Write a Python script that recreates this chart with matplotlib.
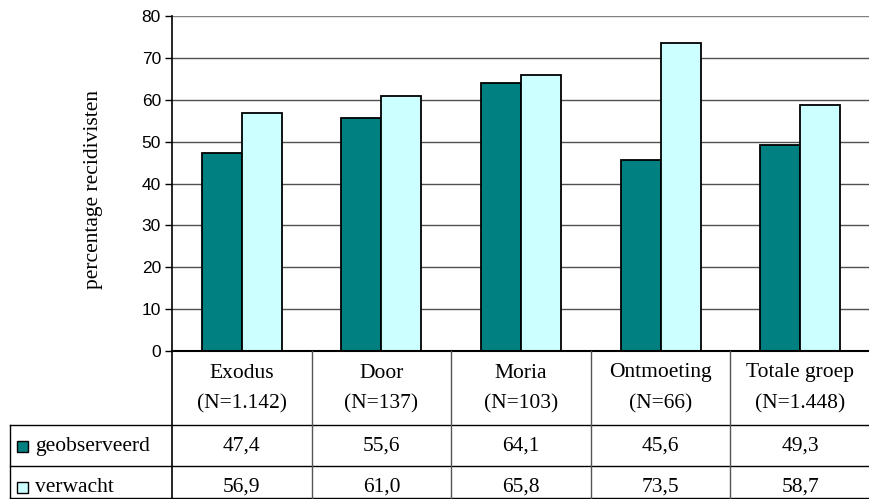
import matplotlib
matplotlib.use("Agg")
import matplotlib.pyplot as plt
from matplotlib.transforms import blended_transform_factory
from matplotlib.patches import Rectangle
from matplotlib.lines import Line2D

categories = ["Exodus", "Door", "Moria", "Ontmoeting", "Totale groep"]
n_labels = ["(N=1.142)", "(N=137)", "(N=103)", "(N=66)", "(N=1.448)"]
geobserveerd = [47.4, 55.6, 64.1, 45.6, 49.3]
verwacht = [56.9, 61.0, 65.8, 73.5, 58.7]
series_names = ["geobserveerd", "verwacht"]
value_labels = [["47,4", "55,6", "64,1", "45,6", "49,3"],
                ["56,9", "61,0", "65,8", "73,5", "58,7"]]
colors = ["#008080", "#CCFFFF"]

W, H = 870, 499
fig = plt.figure(figsize=(W / 100, H / 100), dpi=100)

def fx(px):
    return px / W

def fy(py):
    return 1 - py / H

left, right, top, bottom = 172, 870, 16, 351
ax = fig.add_axes([fx(left), fy(bottom), fx(right - left), (bottom - top) / H])
ax.set_xlim(-0.5, 4.5)
ax.set_ylim(0, 80)
bw = 0.287
xs = list(range(len(categories)))
ax.bar([x - bw / 2 for x in xs], geobserveerd, width=bw, color=colors[0],
       edgecolor="black", linewidth=1.3, zorder=3)
ax.bar([x + bw / 2 for x in xs], verwacht, width=bw, color=colors[1],
       edgecolor="black", linewidth=1.3, zorder=3)
ax.set_yticks(range(0, 81, 10))
ax.tick_params(axis="y", direction="out", length=5, width=1, labelsize=12.5, pad=3)
for lab in ax.get_yticklabels():
    lab.set_family("Liberation Sans")
ax.set_xticks([])
ax.yaxis.grid(True, color="#505050", linewidth=1)
ax.set_axisbelow(True)
gl = ax.yaxis.get_gridlines()
if gl:
    gl[-1].set_color("#808080")
for s in ["top", "right"]:
    ax.spines[s].set_visible(False)
ax.spines["left"].set_linewidth(1.2)
ax.spines["bottom"].set_visible(False)

serif = "Liberation Serif"
fsz = 15.5
fig.text(fx(94), fy(190), "percentage recidivisten", rotation=90, ha="center",
         va="center", family=serif, fontsize=fsz)

def hline(x0, x1, y, color="black", lw=1):
    fig.add_artist(Line2D([fx(x0), fx(x1)], [fy(y), fy(y)], color=color, lw=lw,
                          transform=fig.transFigure))

def vline(x, y0, y1, color="black", lw=1):
    fig.add_artist(Line2D([fx(x), fx(x)], [fy(y0), fy(y1)], color=color, lw=lw,
                          transform=fig.transFigure))

hline(left, right, 351, lw=1.5)
hline(10, right, 425)
hline(10, right, 466)
hline(10, right, 498)
vline(10, 425, 498)
vline(left, 351, 498, lw=1.2)
grp = (right - left) / 5
for i in range(1, 5):
    vline(left + grp * i, 351, 498, color="#555555")

trans = blended_transform_factory(ax.transData, fig.transFigure)
for i, (c, n) in enumerate(zip(categories, n_labels)):
    ax.text(i, fy(373), c, transform=trans, ha="center", va="center",
            family=serif, fontsize=fsz)
    ax.text(i, fy(404), n, transform=trans, ha="center", va="center",
            family=serif, fontsize=fsz)

row_centers = [446, 487]
for r, (name, col) in enumerate(zip(series_names, colors)):
    yc = row_centers[r]
    fig.add_artist(Rectangle((fx(17), fy(yc + 6)), 11 / W, 11 / H, facecolor=col,
                             edgecolor="black", lw=1, transform=fig.transFigure))
    fig.text(fx(35), fy(yc), name, ha="left", va="center", family=serif, fontsize=fsz)
    for i in xs:
        ax.text(i, fy(yc), value_labels[r][i], transform=trans, ha="center",
                va="center", family=serif, fontsize=fsz)

fig.savefig("out.png", dpi=100)
